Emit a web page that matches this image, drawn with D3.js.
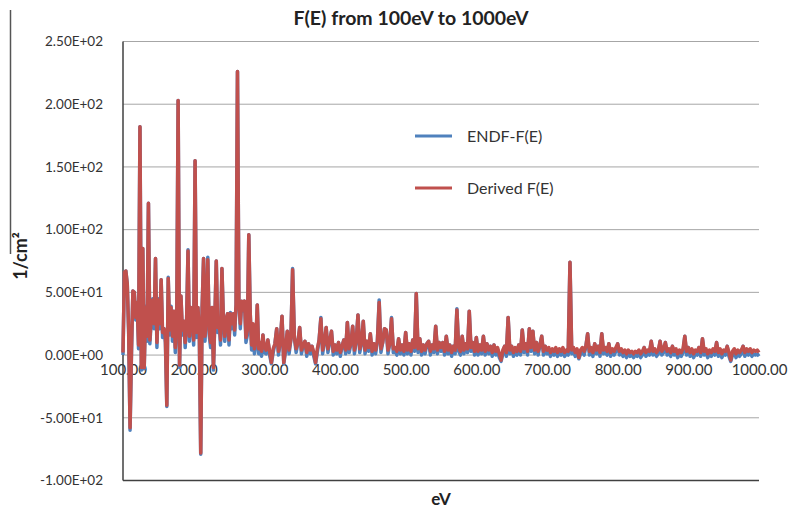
<!DOCTYPE html>
<html>
<head>
<meta charset="utf-8">
<script src="https://cdn.jsdelivr.net/npm/d3@7"></script>
<style>
  body { margin: 0; background: #fff; }
  svg { display: block; font-family: Lato, "Open Sans", sans-serif; }
</style>
</head>
<body>
<div id="chart"></div>
<script>
// sample energies (eV)
const energies = [
  100,102,104,106,108,110,112,114,116,118,120,122,124,126,128,130,132,134,136,138,
  140,142,144,146,148,150,152,154,156,158,160,162,164,166,168,170,172,174,176,178,
  180,182,184,186,188,190,192,194,196,198,200,202,204,206,208,210,212,214,216,218,
  220,222,224,226,228,230,232,234,236,238,240,242,244,246,248,250,252,254,256,258,
  260,262,264,266,268,270,272,274,276,278,280,282,284,286,288,290,292,294,296,298,300,
  302.5,305,307.5,310,312.5,315,317.5,320,322.5,325,327.5,330,332.5,335,337.5,340,342.5,345,347.5,350,
  352.5,355,357.5,360,362.5,365,367.5,370,372.5,375,377.5,380,382.5,385,387.5,390,392.5,395,397.5,400,
  402.5,405,407.5,410,412.5,415,417.5,420,422.5,425,427.5,430,432.5,435,437.5,440,442.5,445,447.5,450,
  452.5,455,457.5,460,462.5,465,467.5,470,472.5,475,477.5,480,482.5,485,487.5,490,492.5,495,497.5,500,
  502.5,505,507.5,510,512.5,515,517.5,520,522.5,525,527.5,530,532.5,535,537.5,540,542.5,545,547.5,550,
  552.5,555,557.5,560,562.5,565,567.5,570,572.5,575,577.5,580,582.5,585,587.5,590,592.5,595,597.5,600,
  602.5,605,607.5,610,612.5,615,617.5,620,622.5,625,627.5,630,632.5,635,637.5,640,642.5,645,647.5,650,
  652.5,655,657.5,660,662.5,665,667.5,670,672.5,675,677.5,680,682.5,685,687.5,690,692.5,695,697.5,700,
  702.5,705,707.5,710,712.5,715,717.5,720,722.5,725,727.5,730,732.5,735,737.5,740,742.5,745,747.5,750,
  752.5,755,757.5,760,762.5,765,767.5,770,772.5,775,777.5,780,782.5,785,787.5,790,792.5,795,797.5,800,
  802.5,805,807.5,810,812.5,815,817.5,820,822.5,825,827.5,830,832.5,835,837.5,840,842.5,845,847.5,850,
  852.5,855,857.5,860,862.5,865,867.5,870,872.5,875,877.5,880,882.5,885,887.5,890,892.5,895,897.5,900,
  902.5,905,907.5,910,912.5,915,917.5,920,922.5,925,927.5,930,932.5,935,937.5,940,942.5,945,947.5,950,
  952.5,955,957.5,960,962.5,965,967.5,970,972.5,975,977.5,980,982.5,985,987.5,990,992.5,995,997.5,1000
];

// Derived F(E)
const derived = [
  2,66,67,57,20,-58,4,51,50,30,42,8,182,-10,85,-10,38,15,121,12,
  30,44,25,77,10,44,25,60,18,21,14,-40,61,20,38,15,35,6,25,203,
  -8,47,20,27,10,27,83,15,38,30,12,155,18,38,20,-78,38,77,15,33,
  76,20,10,38,-10,30,75,22,28,12,69,30,15,29,33,12,33,25,33,20,
  40,226,43,25,43,36,43,14,20,96,33,8,25,5,12,40,5,10,3,16,6,
  4,12,3,-6,5,9,21,3,10,31,-6,6,19,4,12,68,14,5,10,22,
  4,8,11,2,9,4,7,2,-6,5,12,29,4,10,22,5,11,19,3,8,
  4,10,2,7,12,4,26,5,9,23,4,11,32,5,9,27,4,11,6,17,
  3,9,4,11,42,5,10,21,20,4,9,29,5,6,3,13,4,8,3,18,
  4,9,3,12,6,49,5,13,3,8,4,9,11,3,8,5,23,4,10,6,
  10,3,15,4,8,2,7,4,36,6,3,15,4,9,5,35,6,10,3,14,
  3,8,4,15,3,9,4,7,2,8,3,6,1,-4,4,7,2,30,4,7,
  2,6,3,8,3,20,5,9,3,21,6,19,4,10,3,8,15,3,7,4,
  6,2,5,3,6,2,5,3,6,2,4,3,74,4,6,2,5,-2,4,6,
  3,7,17,3,6,2,9,4,7,2,17,4,6,3,9,2,5,3,6,9,
  3,5,2,4,1,4,2,3,1,3,2,4,1,3,6,2,4,3,11,3,
  5,2,4,11,3,5,10,3,5,2,7,3,5,1,4,2,5,15,3,6,
  2,5,1,4,3,6,2,13,3,5,1,4,2,5,3,10,2,5,1,4,
  3,7,2,-4,3,5,1,4,2,4,7,2,5,3,5,2,4,3,4,2
];

// ENDF-F(E)
const endf = [
  0,66,67,57,18,-60,1,51,50,28,42,5,182,-12,85,-11,39,11,121,9,
  28,45,21,77,6,45,21,60,14,21,10,-41,62,16,39,11,35,2,21,203,
  -10,47,16,27,6,27,84,11,38,28,8,155,14,38,16,-79,38,77,11,33,
  78,16,6,38,-12,28,75,18,28,8,69,28,11,29,33,8,34,21,33,16,
  40,226,43,21,43,35,43,10,16,96,34,4,22,1,8,40,1,6,-1,16,2,
  1,12,0,-7,2,9,21,0,10,31,-7,3,19,1,12,69,14,2,10,22,
  1,8,11,-1,9,1,7,-1,-7,2,12,30,1,10,22,2,11,19,0,8,
  1,10,-1,7,12,1,26,2,9,23,1,11,32,2,9,27,1,11,3,17,
  0,9,1,11,44,2,10,21,20,1,9,30,2,3,0,13,1,8,0,18,
  1,9,0,12,3,49,2,13,0,8,1,9,11,0,8,2,23,1,10,3,
  10,0,15,1,8,-1,7,1,37,3,0,15,1,9,2,35,3,10,0,14,
  0,8,1,15,0,9,1,7,-1,8,0,3,-2,-5,1,7,-1,30,1,7,
  -1,3,0,8,0,20,2,9,0,21,3,19,1,10,0,8,15,0,7,1,
  3,-1,2,0,3,-1,2,0,3,-1,1,0,74,1,3,-1,2,-3,1,3,
  0,7,17,0,3,-1,9,1,7,-1,17,1,3,0,9,-1,2,0,3,9,
  0,2,-1,1,-2,1,-1,0,-2,0,-1,1,-2,0,6,-1,1,0,11,0,
  2,-1,1,11,0,2,10,0,2,-1,7,0,2,-2,1,-1,2,15,0,6,
  -1,2,-2,1,0,6,-1,13,0,2,-2,1,-1,2,0,10,-1,2,-2,1,
  0,7,-1,-5,0,2,-2,1,-1,1,7,-1,2,0,2,-1,1,0,1,-1
];

const xTicks = [100, 200, 300, 400, 500, 600, 700, 800, 900, 1000];
const yTicks = [-100, -50, 0, 50, 100, 150, 200, 250];

const series = [
  {name: 'ENDF-F(E)', values: endf, color: '#4f81bd'},
  {name: 'Derived F(E)', values: derived, color: '#c0504d'}
];

const width = 790, height = 510;
const plotLeft = 123, plotRight = 759, plotTop = 41.5, plotBottom = 480.5;

const svg = d3.select('#chart').append('svg')
  .attr('width', width).attr('height', height);

const x = d3.scaleLinear().domain([100, 1000]).range([plotLeft, plotRight]);
const y = d3.scaleLinear().domain([-100, 250]).range([plotBottom, plotTop]);

// excel style scientific label: 2.50E+02
function sci(d) {
  const s = d3.format('.2e')(d).replace('\u2212', '-');
  return s.replace(/e([+-])(\d+)$/, (m, sign, exp) => 'E' + sign + exp.padStart(2, '0'));
}

// gridlines
svg.append('g')
  .selectAll('line')
  .data(yTicks.filter(d => d > -100))
  .join('line')
  .attr('x1', plotLeft).attr('x2', plotRight)
  .attr('y1', d => y(d)).attr('y2', d => y(d))
  .attr('stroke', '#a6a6a6').attr('stroke-width', 1);

// y axis labels
const yAxis = d3.axisLeft(y).tickValues(yTicks).tickSize(0).tickPadding(20)
  .tickFormat(sci);
svg.append('g')
  .attr('transform', `translate(${plotLeft},0)`)
  .call(yAxis)
  .call(g => g.select('.domain').remove())
  .call(g => g.selectAll('text')
    .attr('font-family', 'Lato, sans-serif')
    .attr('font-size', 13.5).attr('fill', '#333'));

// x axis labels sitting on the zero line
const xAxis = d3.axisBottom(x).tickValues(xTicks).tickSize(0).tickPadding(9)
  .tickFormat(d3.format('.2f'));
svg.append('g')
  .attr('transform', `translate(0,${y(0)})`)
  .call(xAxis)
  .call(g => g.select('.domain').remove())
  .call(g => g.selectAll('text')
    .attr('font-family', 'Lato, sans-serif')
    .attr('font-size', 15).attr('fill', '#333'));

// plot border lines
svg.append('line')
  .attr('x1', plotLeft).attr('x2', plotLeft).attr('y1', plotTop).attr('y2', plotBottom)
  .attr('stroke', '#404040').attr('stroke-width', 1.5);
svg.append('line')
  .attr('x1', plotLeft).attr('x2', plotRight).attr('y1', plotBottom).attr('y2', plotBottom)
  .attr('stroke', '#404040').attr('stroke-width', 1.5);

// series
const line = d3.line()
  .x((d, i) => x(energies[i]))
  .y(d => y(d));

svg.append('g')
  .selectAll('path')
  .data(series)
  .join('path')
  .attr('d', d => line(d.values))
  .attr('fill', 'none')
  .attr('stroke', d => d.color)
  .attr('stroke-width', 3.5)
  .attr('stroke-linejoin', 'round');

// legend
const legend = svg.append('g');
series.forEach((s, i) => {
  const ly = 136 + i * 52;
  legend.append('line')
    .attr('x1', 415).attr('x2', 452).attr('y1', ly).attr('y2', ly)
    .attr('stroke', s.color).attr('stroke-width', 3);
  legend.append('text')
    .attr('x', 467).attr('y', ly).attr('dy', '0.35em')
    .attr('font-size', 16).attr('fill', '#333')
    .text(s.name);
});

// title
svg.append('text')
  .attr('x', 411).attr('y', 25)
  .attr('text-anchor', 'middle')
  .attr('font-size', 19.5).attr('font-weight', 'bold').attr('fill', '#222')
  .text('F(E) from 100eV to 1000eV');

// x title
svg.append('text')
  .attr('x', 441).attr('y', 505)
  .attr('text-anchor', 'middle')
  .attr('font-size', 17).attr('font-weight', 'bold').attr('fill', '#222')
  .text('eV');

// y title
svg.append('line')
  .attr('x1', 10.5).attr('x2', 10.5).attr('y1', 10).attr('y2', 254)
  .attr('stroke', '#555').attr('stroke-width', 1.5);
svg.append('text')
  .attr('transform', 'translate(27,256) rotate(-90)')
  .attr('text-anchor', 'middle')
  .attr('font-size', 18).attr('font-weight', 'bold').attr('fill', '#222')
  .text('1/cm²');
</script>
</body>
</html>
